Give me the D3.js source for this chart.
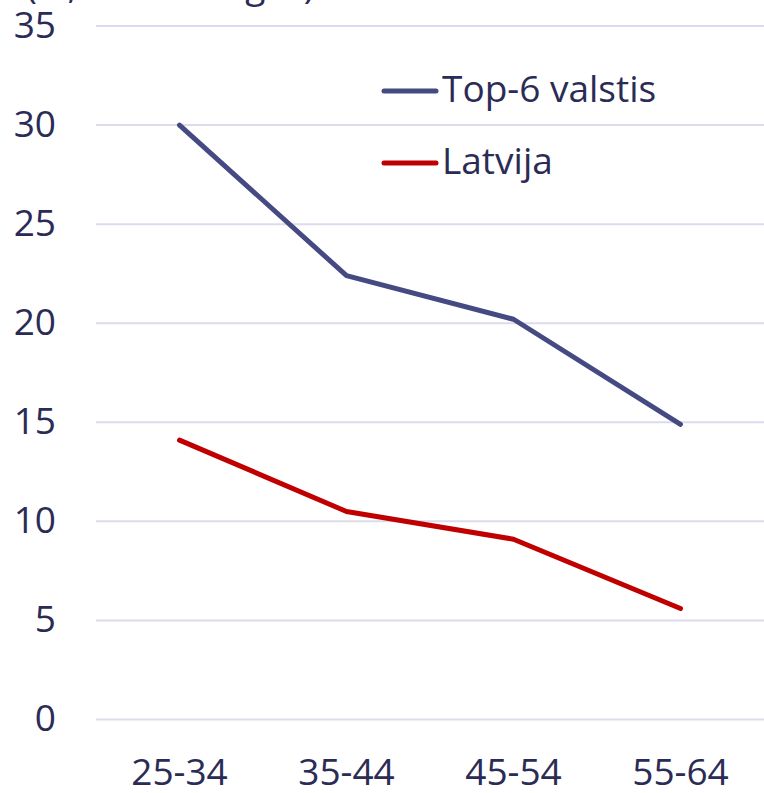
<!DOCTYPE html>
<html><head><meta charset="utf-8">
<script src="https://cdn.jsdelivr.net/npm/d3@7"></script>
<style>html,body{margin:0;padding:0;background:#fff;}svg{display:block;}</style>
</head><body>
<svg id="chart" width="764" height="793"></svg>
<script>
const categories = ["25-34", "35-44", "45-54", "55-64"];
const seriesNames = ["Top-6 valstis", "Latvija"];
const top6Values = [30.0, 22.4, 20.2, 14.9];
const latvijaValues = [14.1, 10.5, 9.1, 5.6];
const yTicks = [0, 5, 10, 15, 20, 25, 30, 35];
const titleText = "(%, no attiecīgās)";

const colors = {"Top-6 valstis": "#454a82", "Latvija": "#c00000"};
const textColor = "#2b2c55";
const font = "'Open Sans', sans-serif";
const fs = 37;

const svg = d3.select("#chart");
const x = d3.scaleBand().domain(categories).range([96, 764]);
const y = d3.scaleLinear().domain([0, 35]).range([719.5, 26]);

// title (cut off at top)
svg.append("text").attr("x", 26).attr("y", -2)
  .attr("font-family", font).attr("font-size", fs).attr("fill", textColor)
  .text(titleText);

// gridlines
svg.append("g").selectAll("line").data(yTicks).join("line")
  .attr("x1", 96).attr("x2", 764)
  .attr("y1", d => y(d)).attr("y2", d => y(d))
  .attr("stroke", "#dcdbee").attr("stroke-width", 2);

// y axis labels
const yAxis = d3.axisLeft(y).tickValues(yTicks).tickSize(0).tickPadding(0);
const gy = svg.append("g").attr("transform", "translate(56,0)").call(yAxis);
gy.select(".domain").remove();
gy.selectAll("text").attr("font-family", font).attr("font-size", fs)
  .attr("fill", textColor).attr("dy", "0.3em");

// x axis labels
const xAxis = d3.axisBottom(x).tickSize(0).tickPadding(0);
const gx = svg.append("g").attr("transform", "translate(0,759)").call(xAxis);
gx.select(".domain").remove();
gx.selectAll("text").attr("font-family", font).attr("font-size", fs)
  .attr("fill", textColor).attr("dy", "0.71em");

// lines
const series = [
  {name: "Top-6 valstis", values: top6Values},
  {name: "Latvija", values: latvijaValues}
];
const line = d3.line()
  .x((d, i) => x(categories[i]) + x.bandwidth() / 2)
  .y(d => y(d));
svg.append("g").selectAll("path").data(series).join("path")
  .attr("d", d => line(d.values))
  .attr("fill", "none")
  .attr("stroke", d => colors[d.name])
  .attr("stroke-width", 5)
  .attr("stroke-linecap", "round")
  .attr("stroke-linejoin", "round");

// legend
const legend = svg.append("g");
const legY = [91, 163];
seriesNames.forEach((n, i) => {
  legend.append("line").attr("x1", 384).attr("x2", 436)
    .attr("y1", legY[i]).attr("y2", legY[i])
    .attr("stroke", colors[n]).attr("stroke-width", 5).attr("stroke-linecap", "round");
  legend.append("text").attr("x", 442).attr("y", legY[i]).attr("dy", "0.3em")
    .attr("font-family", font).attr("font-size", fs).attr("fill", textColor)
    .text(n);
});
</script>
</body></html>
